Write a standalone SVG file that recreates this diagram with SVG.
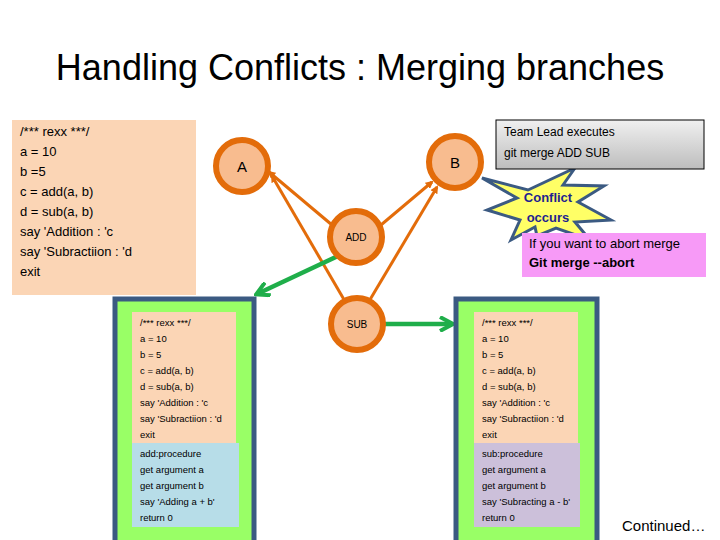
<svg xmlns="http://www.w3.org/2000/svg" width="720" height="540" viewBox="0 0 720 540">
<defs>
<style>
text{font-family:"Liberation Sans","DejaVu Sans",sans-serif;fill:#000}
.code{font-size:13px}
.sm{font-size:9.5px}
.circ{fill:#f8bc8f;stroke:#e36c0a;stroke-width:6}
.oa{stroke:#e36c0a;stroke-width:3;fill:none;marker-end:url(#oh)}
.ga{stroke:#1fae4a;stroke-width:4.5;fill:none;marker-end:url(#gh)}
.outer{fill:#99ff66;stroke:#3b5a82;stroke-width:5}
</style>
<marker id="oh" markerWidth="8" markerHeight="8" refX="6" refY="4" orient="auto" markerUnits="userSpaceOnUse"><path d="M0,0 L8,4 L0,8 Z" fill="#e36c0a"/></marker>
<marker id="gh" markerWidth="16" markerHeight="16" refX="13" refY="8" orient="auto" markerUnits="userSpaceOnUse"><path d="M1,1 L14,8 L1,15" fill="none" stroke="#1fae4a" stroke-width="4"/></marker>
<linearGradient id="gg" x1="0" y1="0" x2="0" y2="1"><stop offset="0" stop-color="#f0f0f0"/><stop offset="1" stop-color="#bdbdbd"/></linearGradient>
</defs>
<rect width="720" height="540" fill="#fff"/>
<text x="360" y="80" font-size="36" text-anchor="middle">Handling Conflicts : Merging branches</text>

<g id="code-main">
<rect x="12" y="120" width="184" height="175" fill="#fbd5b5"/>
<text class="code" x="20" y="136">/*** rexx ***/</text>
<text class="code" x="20" y="156">a = 10</text>
<text class="code" x="20" y="176">b =5</text>
<text class="code" x="20" y="196">c = add(a, b)</text>
<text class="code" x="20" y="216">d = sub(a, b)</text>
<text class="code" x="20" y="236">say 'Addition    : 'c</text>
<text class="code" x="20" y="256">say 'Subractiion : 'd</text>
<text class="code" x="20" y="276">exit</text>
</g>

<g id="connectors">
<line class="oa" x1="338" y1="230" x2="269" y2="172"/>
<line class="oa" x1="375" y1="230" x2="432" y2="182"/>
<line class="oa" x1="346" y1="303" x2="272" y2="176"/>
<line class="oa" x1="368" y1="303" x2="437" y2="187"/>
<line class="ga" x1="338" y1="256" x2="257" y2="294"/>
<line class="ga" x1="383" y1="324" x2="452" y2="324"/>
</g>

<g id="A"><circle class="circ" cx="242" cy="166" r="26"/><text x="242" y="172" font-size="15" text-anchor="middle">A</text></g>
<g id="B"><circle class="circ" cx="455" cy="162" r="26"/><text x="455" y="168" font-size="15" text-anchor="middle">B</text></g>
<g id="ADD"><circle class="circ" cx="356" cy="237" r="26"/><text x="356" y="241" font-size="10" text-anchor="middle">ADD</text></g>
<g id="SUB"><circle class="circ" cx="357" cy="324" r="26"/><text x="357" y="328" font-size="10" text-anchor="middle">SUB</text></g>

<g id="branch-add">
<rect class="outer" x="115" y="299" width="139" height="245"/>
<rect x="132" y="312" width="104" height="132" fill="#fbd5b5"/>
<rect x="132" y="443" width="107" height="84" fill="#b7dde8"/>
<text class="sm" x="140" y="326">/*** rexx ***/</text>
<text class="sm" x="140" y="342">a = 10</text>
<text class="sm" x="140" y="358">b = 5</text>
<text class="sm" x="140" y="374">c = add(a, b)</text>
<text class="sm" x="140" y="390">d = sub(a, b)</text>
<text class="sm" x="140" y="406">say 'Addition    : 'c</text>
<text class="sm" x="140" y="422">say 'Subractiion : 'd</text>
<text class="sm" x="140" y="438">exit</text>
<text class="sm" x="140" y="457">add:procedure</text>
<text class="sm" x="140" y="473">get argument a</text>
<text class="sm" x="140" y="489">get argument b</text>
<text class="sm" x="140" y="505">say 'Adding a + b'</text>
<text class="sm" x="140" y="521">return 0</text>
</g>

<g id="branch-sub">
<rect class="outer" x="456" y="299" width="141" height="245"/>
<rect x="474" y="312" width="104" height="132" fill="#fbd5b5"/>
<rect x="474" y="443" width="106" height="84" fill="#ccc0da"/>
<text class="sm" x="482" y="326">/*** rexx ***/</text>
<text class="sm" x="482" y="342">a = 10</text>
<text class="sm" x="482" y="358">b = 5</text>
<text class="sm" x="482" y="374">c = add(a, b)</text>
<text class="sm" x="482" y="390">d = sub(a, b)</text>
<text class="sm" x="482" y="406">say 'Addition    : 'c</text>
<text class="sm" x="482" y="422">say 'Subractiion : 'd</text>
<text class="sm" x="482" y="438">exit</text>
<text class="sm" x="482" y="457">sub:procedure</text>
<text class="sm" x="482" y="473">get argument a</text>
<text class="sm" x="482" y="489">get argument b</text>
<text class="sm" x="482" y="505">say 'Subracting a - b'</text>
<text class="sm" x="482" y="521">return 0</text>
</g>

<g id="conflict">
<polygon points="575,168 563,185 604,186 578,202 611,220 575,222 590,240 556,228 537,236 535,227 511,240 520,220 487,210 517,198 482,178 528,190" fill="#ffff66" stroke="#3b5a82" stroke-width="3"/>
<text x="548" y="202" font-size="13" font-weight="bold" fill="#1f1f8f" text-anchor="middle" style="fill:#1f1f8f">Conflict</text>
<text x="548" y="222" font-size="13" font-weight="bold" text-anchor="middle" style="fill:#1f1f8f">occurs</text>
</g>

<g id="team-lead">
<rect x="496" y="120" width="208" height="49" fill="url(#gg)" stroke="#000" stroke-width="1"/>
<text x="504" y="136" font-size="12">Team Lead executes</text>
<text x="504" y="157" font-size="12">git merge ADD SUB</text>
</g>

<g id="abort">
<rect x="522" y="233" width="184" height="44" fill="#f79af7"/>
<text x="529" y="248" font-size="13">If you want to abort merge</text>
<text x="529" y="267" font-size="13" font-weight="bold">Git merge --abort</text>
</g>

<text x="622" y="531" font-size="15">Continued…</text>
</svg>
